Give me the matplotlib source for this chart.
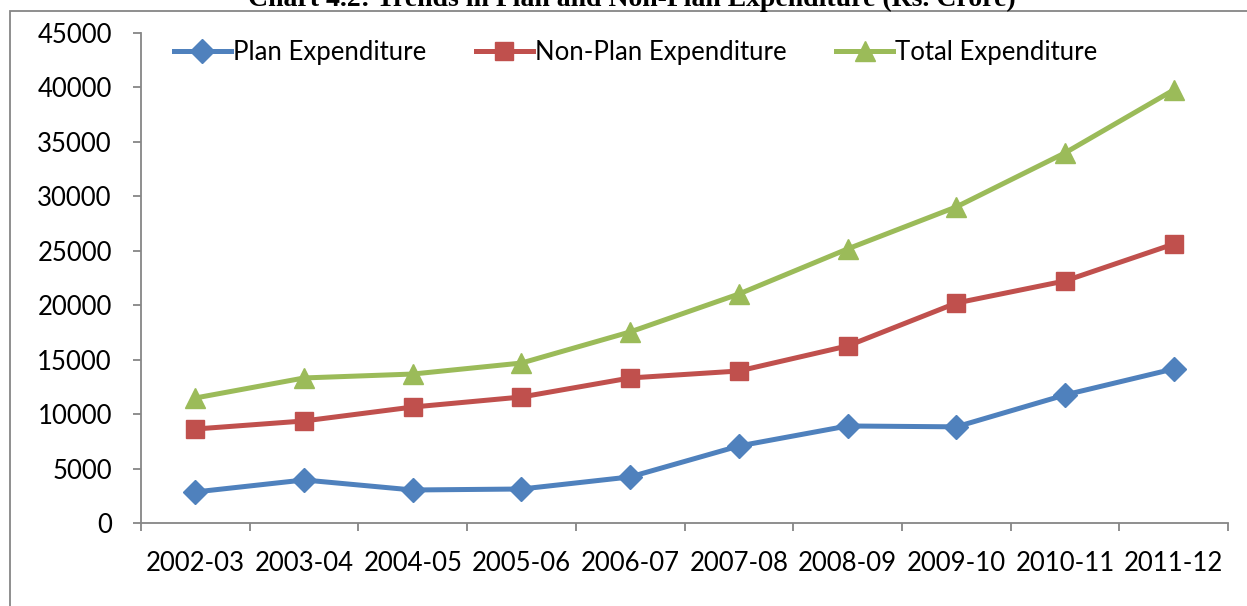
import matplotlib.pyplot as plt
from matplotlib.patches import Rectangle

years = ['2002-03', '2003-04', '2004-05', '2005-06', '2006-07',
         '2007-08', '2008-09', '2009-10', '2010-11', '2011-12']
plan_exp = [2850, 3950, 3030, 3120, 4230, 7070, 8910, 8830, 11760, 14150]
non_plan_exp = [8630, 9370, 10650, 11570, 13320, 13960, 16260, 20200, 22230, 25620]
total_exp = [11480, 13320, 13680, 14690, 17550, 21030, 25170, 29030, 33990, 39770]

blue = '#4F81BD'
red = '#C0504D'
green = '#9BBB59'
grey = '#868686'

plt.rcParams['font.family'] = ['Lato', 'DejaVu Sans']
fs = 18.5

fig = plt.figure(figsize=(12.47, 6.06), dpi=100)
ax = fig.add_axes([0.1131, 0.137, 0.8717, 0.8085])

x = list(range(len(years)))
ax.plot(x, plan_exp, color=blue, lw=3.6, marker='D', ms=12, label='Plan Expenditure')
ax.plot(x, non_plan_exp, color=red, lw=3.6, marker='s', ms=12.5, label='Non-Plan Expenditure')
ax.plot(x, total_exp, color=green, lw=3.6, marker='^', ms=14, label='Total Expenditure')

ax.set_xlim(-0.5, len(years) - 0.5)
ax.set_ylim(0, 45000)
ax.set_yticks(range(0, 45001, 5000))
ax.set_xticks([i - 0.5 for i in range(len(years) + 1)])
ax.set_xticklabels([])
ax.set_xticks(x, minor=True)
ax.set_xticklabels(years, minor=True)

for side in ['top', 'right']:
    ax.spines[side].set_visible(False)
for side in ['left', 'bottom']:
    ax.spines[side].set_color(grey)
    ax.spines[side].set_linewidth(1.3)

ax.tick_params(axis='y', direction='out', length=6, width=1.3, color=grey,
               labelsize=fs, pad=15)
ax.tick_params(axis='x', which='major', direction='out', length=6, width=1.3, color=grey)
ax.tick_params(axis='x', which='minor', length=0, labelsize=fs, pad=20)

ax.legend(loc='center left', bbox_to_anchor=(0.021, 0.961), ncol=3, frameon=False,
          fontsize=fs, handlelength=2.2, handletextpad=0.08, columnspacing=1.95,
          borderaxespad=0)

# outer frame and the title sitting on it
fig.patches.append(Rectangle((10 / 1247, -0.2), 1.2, 1.2 - 11 / 606,
                             transform=fig.transFigure, fill=False,
                             edgecolor=grey, lw=1.3))
fig.text(0.507, 1 - 6 / 606, 'Chart 4.2: Trends in Plan and Non-Plan Expenditure (Rs. Crore)',
         ha='center', va='baseline', fontsize=20, fontweight='bold',
         family=['Liberation Serif', 'DejaVu Serif'])

fig.savefig('out.png', dpi=100)
